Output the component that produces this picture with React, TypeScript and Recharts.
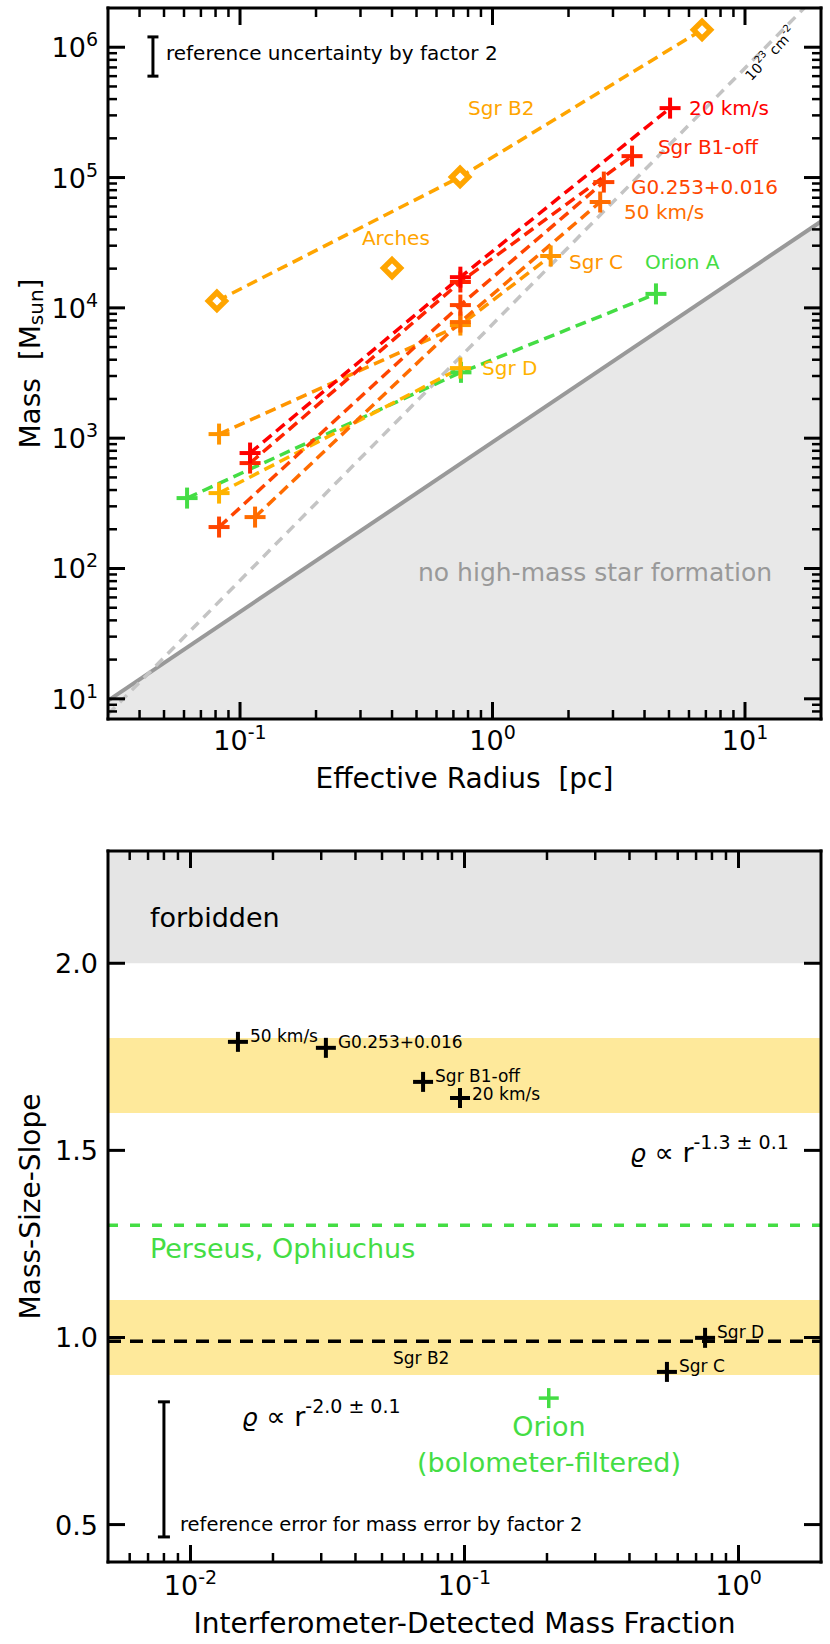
import React from "react";
import {
  ComposedChart, Line, Area, Scatter, XAxis, YAxis, ReferenceArea, ReferenceLine,
} from "recharts";

const FONT = "DejaVu Sans";

const COLORS = {
  kms20: "#ff0000",
  sgrB1: "#ff2400",
  g0253: "#ff4500",
  kms50: "#ff6c00",
  sgrC: "#ff9500",
  sgrB2: "#ffa500",
  sgrD: "#ffb300",
  orion: "#44dd44",
};

// ---------- top panel: mass vs. effective radius ----------
const RADIUS_DOMAIN = [0.03, 20];
const MASS_DOMAIN = [7, 2e6];

const ORION_A = [{ x: 0.0617, y: 347 }, { x: 0.75, y: 3200 }, { x: 4.44, y: 1.28e4 }];
const SGR_D = [{ x: 0.0826, y: 379 }, { x: 0.746, y: 3450 }];
const SGR_C = [{ x: 0.0826, y: 1075 }, { x: 0.746, y: 7380 }, { x: 1.7, y: 2.5e4 }];
const KMS_50 = [{ x: 0.1147, y: 248 }, { x: 0.746, y: 7780 }, { x: 2.67, y: 6.49e4 }];
const G0253 = [{ x: 0.0826, y: 208 }, { x: 0.746, y: 1.05e4 }, { x: 2.76, y: 9.23e4 }];
const SGR_B1 = [{ x: 0.1096, y: 644 }, { x: 0.746, y: 1.58e4 }, { x: 3.57, y: 1.46e5 }];
const KMS_20 = [{ x: 0.1096, y: 769 }, { x: 0.746, y: 1.72e4 }, { x: 5.05, y: 3.41e5 }];
const SGR_B2 = [{ x: 0.081, y: 1.13e4 }, { x: 0.744, y: 1.01e5 }, { x: 6.76, y: 1.36e6 }];
const ARCHES = [{ x: 0.4, y: 2.02e4 }];

// limits
const NO_HMSF_LIMIT = [{ x: 0.03, y: 9.7 }, { x: 20, y: 4.6e4 }];
const COLUMN_1E23 = [{ x: 0.03, y: 7.6 }, { x: 20, y: 2.7e6 }];
const TOP_ERRBAR = [{ x: 0.0452, y: 6.0e5 }, { x: 0.0452, y: 1.2e6 }];

const TOP_LABELS = [
  { x: 0.8, y: 3.4e5, text: "Sgr B2", color: COLORS.sgrB2 },
  { x: 0.304, y: 3.42e4, text: "Arches", color: COLORS.sgrB2 },
  { x: 6.0, y: 3.4e5, text: "20 km/s", color: COLORS.kms20 },
  { x: 4.52, y: 1.71e5, text: "Sgr B1-off", color: COLORS.sgrB1 },
  { x: 3.54, y: 8.4e4, text: "G0.253+0.016", color: COLORS.g0253 },
  { x: 3.32, y: 5.42e4, text: "50 km/s", color: COLORS.kms50 },
  { x: 2.01, y: 2.24e4, text: "Sgr C", color: COLORS.sgrC },
  { x: 4.02, y: 2.24e4, text: "Orion A", color: COLORS.orion },
  { x: 0.909, y: 3.44e3, text: "Sgr D", color: COLORS.sgrD },
];
const TOP_NOTES = [
  { x: 0.507, y: 93.5, text: "no high-mass star formation", kind: "region" },
  { x: 0.0509, y: 9.0e5, text: "reference uncertainty by factor 2", kind: "note" },
  { x: 12.6, y: 8.9e5, text: "", kind: "column" },
];

// ---------- bottom panel: slope vs. detected fraction ----------
const FRACTION_DOMAIN = [0.005, 2];
const SLOPE_DOMAIN = [0.4, 2.3];
const SLOPE_TICKS = [0.5, 1.0, 1.5, 2.0];

const CMZ_SLOPES = [
  { x: 0.0149, y: 1.79, name: "50 km/s" },
  { x: 0.0312, y: 1.774, name: "G0.253+0.016" },
  { x: 0.0706, y: 1.683, name: "Sgr B1-off" },
  { x: 0.0963, y: 1.64, name: "20 km/s" },
  { x: 0.755, y: 0.999, name: "Sgr D" },
  { x: 0.548, y: 0.908, name: "Sgr C" },
];
const ORION_SLOPE = [{ x: 0.203, y: 0.838 }];
const SGR_B2_SLOPE = 0.99;
const PERSEUS_SLOPE = 1.3;
const BOT_ERRBAR = [{ x: 0.008, y: 0.467 }, { x: 0.008, y: 0.828 }];

const BOT_LABELS = [
  { x: 0.0548, y: 0.945, text: "Sgr B2", kind: "small" },
  { x: 0.00711, y: 2.121, text: "forbidden", kind: "big" },
  { x: 0.00711, y: 1.239, text: "Perseus, Ophiuchus", kind: "green" },
  { x: 0.2034, y: 0.761, text: "Orion", kind: "greenMid" },
  { x: 0.2034, y: 0.665, text: "(bolometer-filtered)", kind: "greenMid" },
  { x: 0.00916, y: 0.499, text: "reference error for mass error by factor 2", kind: "note" },
  { x: 0.0154, y: 0.787, text: "-2.0 ± 0.1", kind: "rho" },
  { x: 0.402, y: 1.493, text: "-1.3 ± 0.1", kind: "rho" },
];

// ---------- helpers ----------
const isDecade = (v: number) => Math.abs(Math.log10(v) - Math.round(Math.log10(v))) < 1e-6;

function logTicks(lo: number, hi: number): number[] {
  const out: number[] = [];
  for (let e = Math.floor(Math.log10(lo)); e <= Math.ceil(Math.log10(hi)); e++) {
    for (let m = 1; m <= 9; m++) {
      const v = +(m * Math.pow(10, e)).toPrecision(6);
      if (v > lo * 1.001 && v < hi * 0.999) out.push(v);
    }
  }
  return out;
}

const RADIUS_TICKS = logTicks(RADIUS_DOMAIN[0], RADIUS_DOMAIN[1]);
const MASS_TICKS = logTicks(MASS_DOMAIN[0], MASS_DOMAIN[1]);
const FRACTION_TICKS = logTicks(FRACTION_DOMAIN[0], FRACTION_DOMAIN[1]);

const Pow10 = ({ v }: { v: number }) => (
  <>
    <tspan>10</tspan>
    <tspan fontSize={19} dy={-11}>{Math.round(Math.log10(v))}</tspan>
  </>
);

const len = (major: boolean) => (major ? 17 : 9);

const makeTick = (side: "bottom" | "top" | "left" | "right", log: boolean, labelDy = 32) => (p: any) => {
  const { x, y, payload } = p;
  const v = payload.value;
  const major = log ? isDecade(v) : true;
  const L = len(major);
  const sw = major ? 3 : 2.5;
  let line;
  if (side === "bottom") line = <line x1={x} x2={x} y1={y} y2={y - L} />;
  else if (side === "top") line = <line x1={x} x2={x} y1={y} y2={y + L} />;
  else if (side === "left") line = <line x1={x} x2={x + L} y1={y} y2={y} />;
  else line = <line x1={x} x2={x - L} y1={y} y2={y} />;
  let label = null;
  if (major && side === "bottom") {
    label = (
      <text x={x} y={y + labelDy} textAnchor="middle" fontSize={27} fill="#000" stroke="none">
        <Pow10 v={v} />
      </text>
    );
  } else if (major && side === "left") {
    label = (
      <text x={x - 10} y={y + 10} textAnchor="end" fontSize={27} fill="#000" stroke="none">
        {log ? <Pow10 v={v} /> : v.toFixed(1)}
      </text>
    );
  }
  return (
    <g stroke="#000" strokeWidth={sw}>
      {line}
      {label}
    </g>
  );
};

const Plus = ({ cx, cy, color, size = 20, sw = 3.5 }: any) =>
  cx == null ? null : (
    <g stroke={color} strokeWidth={sw}>
      <line x1={cx - size / 2} x2={cx + size / 2} y1={cy} y2={cy} />
      <line x1={cx} x2={cx} y1={cy - size / 2} y2={cy + size / 2} />
    </g>
  );

const plusDot = (color: string, size = 21, sw = 4) => (p: any) => (
  <Plus key={`pd-${p.index}`} cx={p.cx} cy={p.cy} color={color} size={size} sw={sw} />
);

const diamondDot = (color: string) => (p: any) => {
  const { cx, cy } = p;
  const h = 8.5;
  return (
    <path
      key={`dd-${p.index}`}
      d={`M${cx},${cy - h} L${cx + h},${cy} L${cx},${cy + h} L${cx - h},${cy} Z`}
      fill="#fff"
      stroke={color}
      strokeWidth={5.5}
    />
  );
};

const capDot = (w: number) => (p: any) => (
  <line key={`cap-${p.index}`} x1={p.cx - w / 2} x2={p.cx + w / 2} y1={p.cy} y2={p.cy} stroke="#000" strokeWidth={3} />
);

const seriesLabel = (p: any) => {
  const { cx, cy, payload } = p;
  return (
    <text x={cx} y={cy} fontSize={20} fill={payload.color} dominantBaseline="central">
      {payload.text}
    </text>
  );
};

const topNote = (p: any) => {
  const { cx, cy, payload } = p;
  if (payload.kind === "region")
    return <text x={cx} y={cy} fontSize={25} fill="#999" dominantBaseline="central">{payload.text}</text>;
  if (payload.kind === "note")
    return <text x={cx} y={cy} fontSize={20} fill="#000" dominantBaseline="central">{payload.text}</text>;
  return (
    <text x={cx} y={cy} fontSize={14} fill="#000" textAnchor="middle" dominantBaseline="central"
      transform={`rotate(-47 ${cx} ${cy})`}>
      <tspan>10</tspan>
      <tspan fontSize={10} dy={-6}>23</tspan>
      <tspan dy={6}> cm</tspan>
      <tspan fontSize={10} dy={-6}>-2</tspan>
    </text>
  );
};

const botLabel = (p: any) => {
  const { cx, cy, payload } = p;
  const k = payload.kind;
  if (k === "rho")
    return (
      <text x={cx} y={cy + 9} fontSize={25} fill="#000">
        <tspan fontStyle="italic">ϱ</tspan>
        <tspan fontSize={27}> ∝ r</tspan>
        <tspan fontSize={19} dy={-13}>{payload.text}</tspan>
      </text>
    );
  const styles: Record<string, any> = {
    small: { fontSize: 17, fill: "#000" },
    big: { fontSize: 27, fill: "#000" },
    green: { fontSize: 27, fill: COLORS.orion },
    greenMid: { fontSize: 27, fill: COLORS.orion, textAnchor: "middle" },
    note: { fontSize: 19.5, fill: "#000" },
  };
  return (
    <text x={cx} y={cy} dominantBaseline="central" {...styles[k]}>
      {payload.text}
    </text>
  );
};

const pointName = (p: any) => (
  <g>
    <Plus cx={p.cx} cy={p.cy} color="#000" size={20} sw={4} />
    <text x={p.cx + 12} y={p.cy - (p.payload.name === "20 km/s" ? 4 : 6)} fontSize={17} fill="#000"
      dominantBaseline="central">
      {p.payload.name}
    </text>
  </g>
);

const axisLine = { stroke: "#000", strokeWidth: 3, strokeLinecap: "square" as const };
const dash = "11 6";

function seriesLine(data: any[], color: string, key: string) {
  return (
    <Line
      key={key}
      data={data}
      dataKey="y"
      type="linear"
      stroke={color}
      strokeWidth={3.5}
      strokeDasharray={dash}
      dot={plusDot(color)}
      activeDot={false}
      isAnimationActive={false}
    />
  );
}

function MassRadiusPanel() {
  return (
    <ComposedChart width={830} height={800} data={NO_HMSF_LIMIT} margin={{ top: 7, right: 8, bottom: 21, left: 8 }}>
      <Area
        dataKey="y"
        type="linear"
        baseValue="dataMin"
        fill="#e8e8e8"
        fillOpacity={1}
        stroke="#999"
        strokeWidth={4}
        isAnimationActive={false}
      />
      <Line data={COLUMN_1E23} dataKey="y" stroke="#c4c4c4" strokeWidth={3.5} strokeDasharray="10 7"
        dot={false} activeDot={false} isAnimationActive={false} />
      {seriesLine(ORION_A, COLORS.orion, "orion")}
      {seriesLine(SGR_D, COLORS.sgrD, "sgrd")}
      {seriesLine(SGR_C, COLORS.sgrC, "sgrc")}
      {seriesLine(KMS_50, COLORS.kms50, "k50")}
      {seriesLine(G0253, COLORS.g0253, "g0253")}
      {seriesLine(SGR_B1, COLORS.sgrB1, "b1")}
      {seriesLine(KMS_20, COLORS.kms20, "k20")}
      <Line data={SGR_B2} dataKey="y" stroke={COLORS.sgrB2} strokeWidth={3.5} strokeDasharray={dash}
        dot={diamondDot(COLORS.sgrB2)} activeDot={false} isAnimationActive={false} />
      <Scatter data={ARCHES} dataKey="y" shape={diamondDot(COLORS.sgrB2)} isAnimationActive={false} />
      <Line data={TOP_ERRBAR} dataKey="y" stroke="#000" strokeWidth={3} dot={capDot(11)}
        activeDot={false} isAnimationActive={false} />
      <Scatter data={TOP_LABELS} dataKey="y" shape={seriesLabel} isAnimationActive={false} />
      <Scatter data={TOP_NOTES} dataKey="y" shape={topNote} isAnimationActive={false} />

      <XAxis dataKey="x" type="number" scale="log" domain={RADIUS_DOMAIN} allowDataOverflow
        ticks={RADIUS_TICKS} interval={0} tickLine={false} tickSize={0} tickMargin={0} height={60}
        axisLine={axisLine} tick={makeTick("bottom", true, 31)}
        label={{
          content: (p: any) => {
            const vb = p.viewBox;
            return (
              <text x={vb.x + vb.width / 2} y={vb.y + 69} textAnchor="middle" fontSize={28} fill="#000">
                Effective Radius{"\u00a0\u00a0"}[pc]
              </text>
            );
          },
        }}
      />
      <XAxis xAxisId="top" orientation="top" dataKey="x" type="number" scale="log" domain={RADIUS_DOMAIN}
        allowDataOverflow ticks={RADIUS_TICKS} interval={0} tickLine={false} tickSize={0} tickMargin={0}
        height={1} axisLine={axisLine} tick={makeTick("top", true)} />
      <YAxis dataKey="y" type="number" scale="log" domain={MASS_DOMAIN} allowDataOverflow
        ticks={MASS_TICKS} interval={0} tickLine={false} tickSize={0} tickMargin={0} width={100}
        axisLine={axisLine} tick={makeTick("left", true)}
        label={{
          content: (p: any) => {
            const vb = p.viewBox;
            const cx = vb.x + 22;
            const cy = vb.y + vb.height / 2;
            return (
              <text x={cx} y={cy} transform={`rotate(-90 ${cx} ${cy})`} textAnchor="middle"
                dominantBaseline="central" fontSize={28} fill="#000">
                Mass{"\u00a0\u00a0"}[M<tspan fontSize={20} dy={6}>sun</tspan><tspan dy={-6}>]</tspan>
              </text>
            );
          },
        }}
      />
      <YAxis yAxisId="right" orientation="right" dataKey="y" type="number" scale="log" domain={MASS_DOMAIN}
        allowDataOverflow ticks={MASS_TICKS} interval={0} tickLine={false} tickSize={0} tickMargin={0}
        width={1} axisLine={axisLine} tick={makeTick("right", true)} />
    </ComposedChart>
  );
}

function SlopePanel() {
  return (
    <ComposedChart width={830} height={844} margin={{ top: 50, right: 8, bottom: 22, left: 8 }}>
      <ReferenceArea y1={2.0} y2={2.3} fill="#e5e5e5" fillOpacity={1} stroke="none" ifOverflow="hidden" />
      <ReferenceArea y1={1.6} y2={1.8} fill="#fee99b" fillOpacity={1} stroke="none" ifOverflow="hidden" />
      <ReferenceArea y1={0.9} y2={1.1} fill="#fee99b" fillOpacity={1} stroke="none" ifOverflow="hidden" />
      <ReferenceLine y={PERSEUS_SLOPE} stroke={COLORS.orion} strokeWidth={3.5} strokeDasharray="10 12" />
      <ReferenceLine y={SGR_B2_SLOPE} stroke="#000" strokeWidth={3.5} strokeDasharray="13 9" />
      <Line data={BOT_ERRBAR} dataKey="y" stroke="#000" strokeWidth={3} dot={capDot(12)}
        activeDot={false} isAnimationActive={false} />
      <Scatter data={CMZ_SLOPES} dataKey="y" shape={pointName} isAnimationActive={false} />
      <Scatter data={ORION_SLOPE} dataKey="y" shape={(p: any) => <Plus cx={p.cx} cy={p.cy} color={COLORS.orion} size={20} sw={3.5} />}
        isAnimationActive={false} />
      <Scatter data={BOT_LABELS} dataKey="y" shape={botLabel} isAnimationActive={false} />

      <XAxis dataKey="x" type="number" scale="log" domain={FRACTION_DOMAIN} allowDataOverflow
        ticks={FRACTION_TICKS} interval={0} tickLine={false} tickSize={0} tickMargin={0} height={60}
        axisLine={axisLine} tick={makeTick("bottom", true, 33)}
        label={{
          content: (p: any) => {
            const vb = p.viewBox;
            return (
              <text x={vb.x + vb.width / 2} y={vb.y + 71} textAnchor="middle" fontSize={28} fill="#000">
                Interferometer-Detected Mass Fraction
              </text>
            );
          },
        }}
      />
      <XAxis xAxisId="top" orientation="top" dataKey="x" type="number" scale="log" domain={FRACTION_DOMAIN}
        allowDataOverflow ticks={FRACTION_TICKS} interval={0} tickLine={false} tickSize={0} tickMargin={0}
        height={1} axisLine={axisLine} tick={makeTick("top", true)} />
      <YAxis dataKey="y" type="number" domain={SLOPE_DOMAIN} allowDataOverflow ticks={SLOPE_TICKS}
        interval={0} tickLine={false} tickSize={0} tickMargin={0} width={100} axisLine={axisLine}
        tick={makeTick("left", false)}
        label={{
          content: (p: any) => {
            const vb = p.viewBox;
            const cx = vb.x + 22;
            const cy = vb.y + vb.height / 2;
            return (
              <text x={cx} y={cy} transform={`rotate(-90 ${cx} ${cy})`} textAnchor="middle"
                dominantBaseline="central" fontSize={28} fill="#000">
                Mass-Size-Slope
              </text>
            );
          },
        }}
      />
      <YAxis yAxisId="right" orientation="right" dataKey="y" type="number" domain={SLOPE_DOMAIN}
        allowDataOverflow ticks={SLOPE_TICKS} interval={0} tickLine={false} tickSize={0} tickMargin={0}
        width={1} axisLine={axisLine} tick={makeTick("right", false)} />
    </ComposedChart>
  );
}

export default function App() {
  return (
    <div style={{ position: "absolute", left: 0, top: 0, width: 830, height: 1644, background: "#fff", fontFamily: FONT }}>
      <MassRadiusPanel />
      <SlopePanel />
    </div>
  );
}
